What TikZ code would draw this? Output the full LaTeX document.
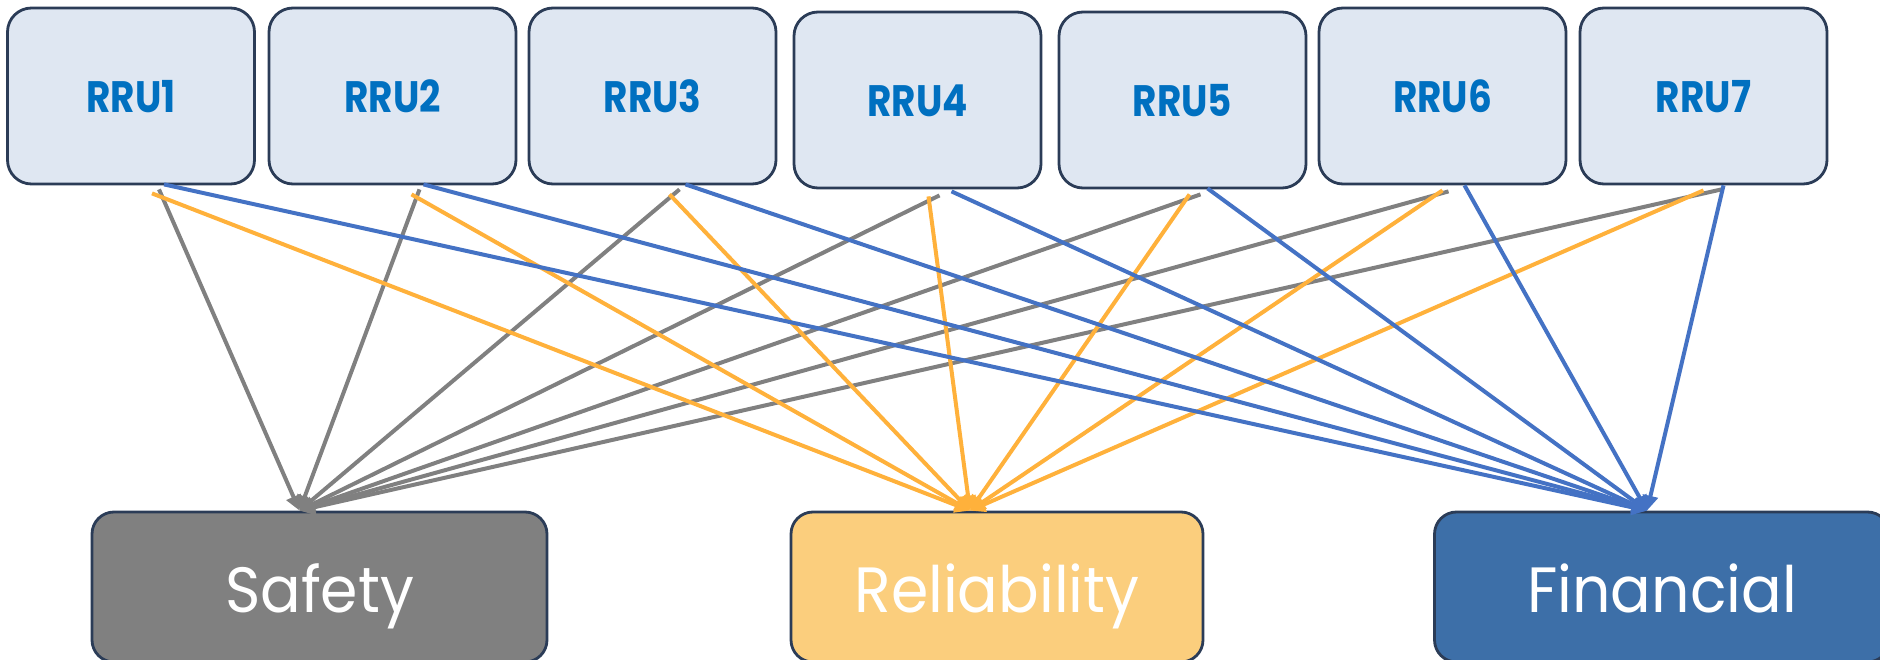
\documentclass[tikz,border=0pt]{standalone}
\usepackage{fontspec}
\setmainfont{Poppins}
\usetikzlibrary{arrows.meta}
\definecolor{rrufill}{HTML}{DFE7F2}
\definecolor{navy}{HTML}{2B3C57}
\definecolor{rrutext}{HTML}{0070C0}
\definecolor{gr}{HTML}{808080}
\definecolor{og}{HTML}{FFB13B}
\definecolor{bl}{HTML}{4472C4}
\definecolor{relfill}{HTML}{FBCE7D}
\definecolor{finfill}{HTML}{3D6FA8}
\newcommand\narrowtxt[2]{\scalebox{#1}[1]{#2}}
\begin{document}
\begin{tikzpicture}[x=1pt,y=-1pt,
  rru/.style={draw=navy, line width=2.8pt, fill=rrufill, rounded corners=24pt,
    minimum width=247pt, minimum height=176pt, inner sep=0pt,
    text height=34pt, text depth=0pt,
    font=\fontsize{44}{46}\selectfont\bfseries, text=rrutext},
  cat/.style={draw=navy, line width=2.8pt, rounded corners=22pt, inner sep=0pt,
    minimum height=150pt, text height=50pt, text depth=0pt,
    font=\fontsize{64}{66}\selectfont, text=white},
  conn/.style={line width=4pt, -{Triangle[length=15pt,width=15pt]}},
  ga/.style={conn, draw=gr, fill=gr},
  oa/.style={conn, draw=og, fill=og},
  ba/.style={conn, draw=bl, fill=bl}
]
\useasboundingbox (0,0) rectangle (1880,660);
% top nodes
\node[rru] (r1) at (131,96)    {\narrowtxt{0.85}{RRU1}};
\node[rru] (r2) at (392.5,96)  {\narrowtxt{0.85}{RRU2}};
\node[rru] (r3) at (652.5,96)  {\narrowtxt{0.85}{RRU3}};
\node[rru] (r4) at (917.5,100) {\narrowtxt{0.85}{RRU4}};
\node[rru] (r5) at (1182.5,100){\narrowtxt{0.85}{RRU5}};
\node[rru] (r6) at (1442.5,96) {\narrowtxt{0.85}{RRU6}};
\node[rru] (r7) at (1703.5,96) {\narrowtxt{0.85}{RRU7}};
% bottom nodes
\node[cat, fill=gr, minimum width=455pt] (saf) at (319.5,587) {\narrowtxt{0.94}{Safety}};
\node[cat, fill=relfill, minimum width=412pt] (rel) at (997,587) {\narrowtxt{0.94}{Reliability}};
\node[cat, fill=finfill, minimum width=455pt] (fin) at (1662,587) {\narrowtxt{0.94}{Financial}};
% gray connectors to Safety
\draw[ga] ([shift={(28,4)}]r1.south) -- ([xshift=-20pt]saf.north);
\draw[ga] ([shift={(27,4)}]r2.south) -- ([xshift=-20pt]saf.north);
\draw[ga] ([shift={(27,4)}]r3.south) -- ([xshift=-20pt]saf.north);
\draw[ga] ([shift={(22,6)}]r4.south) -- ([xshift=-20pt]saf.north);
\draw[ga] ([shift={(18,5)}]r5.south) -- ([xshift=-20pt]saf.north);
\draw[ga] ([shift={(6,6)}]r6.south) -- ([xshift=-20pt]saf.north);
\draw[ga] ([shift={(18,4)}]r7.south) -- ([xshift=-20pt]saf.north);
% orange connectors to Reliability
\draw[oa] ([shift={(21,8)}]r1.south) -- ([xshift=-27pt]rel.north);
\draw[oa] ([shift={(19,9)}]r2.south) -- ([xshift=-27pt]rel.north);
\draw[oa] ([shift={(17,9)}]r3.south) -- ([xshift=-27pt]rel.north);
\draw[oa] ([shift={(11,7)}]r4.south) -- ([xshift=-27pt]rel.north);
\draw[oa] ([shift={(7,5)}]r5.south) -- ([xshift=-27pt]rel.north);
\draw[oa] ([shift={(0,5)}]r6.south) -- ([xshift=-27pt]rel.north);
\draw[oa] ([shift={(0,5)}]r7.south) -- ([xshift=-27pt]rel.north);
% blue connectors to Financial
\draw[ba] ([shift={(33,-1)}]r1.south) -- ([xshift=-15pt]fin.north);
\draw[ba] ([shift={(31,-1)}]r2.south) -- ([xshift=-15pt]fin.north);
\draw[ba] ([shift={(33,-1)}]r3.south) -- ([xshift=-15pt]fin.north);
\draw[ba] ([shift={(34,2)}]r4.south) -- ([xshift=-15pt]fin.north);
\draw[ba] ([shift={(25,-1)}]r5.south) -- ([xshift=-15pt]fin.north);
\draw[ba] ([shift={(22,0)}]r6.south) -- ([xshift=-15pt]fin.north);
\draw[ba] ([shift={(20,0)}]r7.south) -- ([xshift=-15pt]fin.north);
\end{tikzpicture}
\end{document}
